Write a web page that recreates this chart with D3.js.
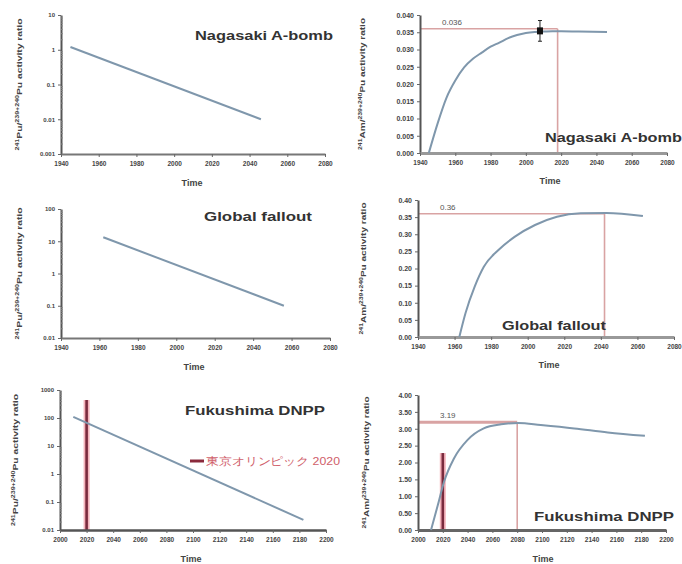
<!DOCTYPE html>
<html><head><meta charset="utf-8">
<script src="https://cdn.jsdelivr.net/npm/d3@7"></script>
<style>
body{margin:0;background:#fff}
svg{display:block}
text{font-family:"Liberation Sans",Arial,sans-serif}
</style>
</head><body>
<svg id="c" width="682" height="564"></svg>
<script>
// ---------- DATA ----------
const yearTicks = [1940, 1960, 1980, 2000, 2020, 2040, 2060, 2080];
const fukushimaYearTicks = [2000, 2020, 2040, 2060, 2080, 2100, 2120, 2140, 2160, 2180, 2200];

const nagasakiLogTicks = [0.001, 0.01, 0.1, 1, 10];
const globalLogTicks = [0.01, 0.1, 1, 10, 100];
const fukushimaLogTicks = [0.01, 0.1, 1, 10, 100, 1000];

const nagasakiAmTicks = [0, 0.005, 0.010, 0.015, 0.020, 0.025, 0.030, 0.035, 0.040];
const globalAmTicks = [0, 0.05, 0.10, 0.15, 0.20, 0.25, 0.30, 0.35, 0.40];
const fukushimaAmTicks = [0, 0.5, 1.0, 1.5, 2.0, 2.5, 3.0, 3.5, 4.0];

// Pu-241 decay (left panels)
const nagasakiPuYears = [1945, 2046];
const nagasakiPuValues = [1.2, 0.01];
const globalPuYears = [1962, 2056];
const globalPuValues = [13.3, 0.1];
const fukushimaPuYears = [2010, 2183];
const fukushimaPuValues = [110, 0.023];

// Am-241 ingrowth (right panels)
const nagasakiAmYears = [1945, 1950, 1955, 1960, 1965, 1970, 1975, 1980, 1985, 1990, 1995, 2000, 2005, 2010, 2015, 2020, 2030, 2046];
const nagasakiAmValues = [0, 0.0086, 0.0160, 0.0210, 0.0248, 0.0273, 0.0291, 0.0308, 0.0320, 0.0333, 0.0342, 0.0348, 0.0351, 0.0352, 0.0353, 0.0353, 0.0352, 0.0351];
const globalAmYears = [1962.6, 1966, 1971, 1976, 1984, 1993, 2004, 2016, 2029, 2043, 2063];
const globalAmValues = [0, 0.070, 0.147, 0.205, 0.254, 0.293, 0.327, 0.351, 0.361, 0.362, 0.353];
const fukushimaAmYears = [2010.5, 2016, 2021, 2029, 2040, 2053, 2067, 2081, 2099, 2126, 2153, 2183];
const fukushimaAmValues = [0, 0.74, 1.43, 2.12, 2.67, 3.01, 3.13, 3.17, 3.11, 3.01, 2.89, 2.79];

// Maxima of Am-241
const peakYears = [2018, 2042, 2080];
const peakValues = [0.036, 0.36, 3.19];
const peakLabels = ["0.036", "0.36", "3.19"];

// Nagasaki measured point
const measuredYear = 2008;
const measuredValue = 0.0354;
const measuredError = 0.003;

// Tokyo Olympics
const olympicYear = 2020;
const olympicTopLeft = 440;
const olympicTopRight = 2.28;
const olympicLabel = "東京オリンピック  2020";

const titles = ["Nagasaki A-bomb", "Global fallout", "Fukushima DNPP"];

// ---------- DRAW ----------
const svg = d3.select("#c");
const lineColor = "#7f97ac";
const refColor = "#d9a3a3";

function yTitle(g, cx, cy, nucl) {
  const t = g.append("text")
    .attr("transform", `translate(${cx},${cy}) rotate(-90)`)
    .attr("text-anchor", "middle")
    .attr("font-size", 8).attr("font-weight", "bold").attr("fill", "#444")
    .attr("textLength", 132).attr("lengthAdjust", "spacingAndGlyphs");
  const sup = (s) => t.append("tspan").attr("font-size", 5.5).attr("dy", -3).text(s);
  const norm = (s) => t.append("tspan").attr("dy", 3).text(s);
  sup(nucl[0]); norm(nucl[1]); sup("239+240"); norm("Pu activity ratio");
}

function panel(c) {
  const g = svg.append("g");
  const x = d3.scaleLinear().domain(c.xDomain).range([c.x0, c.x1]);
  const y = (c.log ? d3.scaleLog() : d3.scaleLinear()).domain(c.yDomain).range([c.yBot, c.yTop]);

  // reference lines
  if (c.peak) {
    g.append("line").attr("x1", c.x0).attr("x2", x(c.peak.year))
      .attr("y1", y(c.peak.value)).attr("y2", y(c.peak.value))
      .attr("stroke", refColor).attr("stroke-width", c.peakWidth);
    g.append("line").attr("x1", x(c.peak.year)).attr("x2", x(c.peak.year))
      .attr("y1", y(c.peak.value)).attr("y2", c.yBot)
      .attr("stroke", refColor).attr("stroke-width", 1.6);
    g.append("text").attr("x", c.x0 + 22).attr("y", y(c.peak.value) - 4)
      .attr("font-size", 8).attr("fill", "#555").text(c.peak.label);
  }
  if (c.olympic) {
    const ox = x(c.olympic.year);
    g.append("line").attr("x1", ox).attr("x2", ox).attr("y1", y(c.olympic.top)).attr("y2", c.yBot)
      .attr("stroke", "#f4b3bb").attr("stroke-width", 6);
    g.append("line").attr("x1", ox).attr("x2", ox).attr("y1", y(c.olympic.top)).attr("y2", c.yBot)
      .attr("stroke", "#7a2b3e").attr("stroke-width", 2.6);
  }

  // axes
  const ya = g.append("g").attr("transform", `translate(${c.x0},0)`)
    .call(d3.axisLeft(y).tickValues(c.yTicks).tickFormat(c.yFormat).tickSize(3).tickSizeOuter(0).tickPadding(3));
  ya.select(".domain").attr("stroke", "#555").attr("stroke-width", 2);
  ya.selectAll(".tick line").attr("stroke", "#666");
  ya.selectAll(".tick text").attr("font-size", c.yFont).attr("fill", "#444").attr("font-weight", "bold")
    .attr("font-family", "Liberation Sans, Arial, sans-serif");
  if (c.log) {
    const minor = y.ticks().filter(v => !c.yTicks.some(t => Math.abs(t - v) / t < 1e-6));
    const ma = g.append("g").attr("transform", `translate(${c.x0},0)`)
      .call(d3.axisRight(y).tickValues(minor).tickFormat("").tickSize(2).tickSizeOuter(0));
    ma.select(".domain").remove();
    ma.selectAll(".tick line").attr("stroke", "#888");
  }
  const xa = g.append("g").attr("transform", `translate(0,${c.yBot})`)
    .call(d3.axisBottom(x).tickValues(c.xTicks).tickFormat(d3.format("d")).tickSize(3).tickSizeOuter(0).tickPadding(4));
  xa.select(".domain").attr("stroke", c.xAxisColor).attr("stroke-width", c.xAxisWidth);
  xa.selectAll(".tick line").attr("stroke", "#666");
  xa.selectAll(".tick text").attr("font-size", 6.5).attr("fill", "#444").attr("font-weight", "bold")
    .attr("font-family", "Liberation Sans, Arial, sans-serif");

  // data line
  const line = d3.line().x(d => x(d[0])).y(d => y(d[1])).curve(d3.curveMonotoneX);
  g.append("path").datum(d3.zip(c.years, c.values)).attr("d", line)
    .attr("fill", "none").attr("stroke", lineColor).attr("stroke-width", 2);

  if (c.measured) {
    const mx = x(c.measured.year);
    g.append("line").attr("x1", mx).attr("x2", mx)
      .attr("y1", y(c.measured.value + c.measured.err)).attr("y2", y(c.measured.value - c.measured.err))
      .attr("stroke", "#222").attr("stroke-width", 1);
    [c.measured.value + c.measured.err, c.measured.value - c.measured.err].forEach(v =>
      g.append("line").attr("x1", mx - 2).attr("x2", mx + 2).attr("y1", y(v)).attr("y2", y(v)).attr("stroke", "#222"));
    g.append("rect").attr("x", mx - 3).attr("y", y(c.measured.value) - 3.5).attr("width", 6).attr("height", 7).attr("fill", "#111");
  }

  // titles
  g.append("text").attr("x", c.titleX).attr("y", c.titleY).attr("text-anchor", "end")
    .attr("font-size", 13).attr("font-weight", "bold").attr("fill", "#333")
    .attr("textLength", c.titleLen).attr("lengthAdjust", "spacingAndGlyphs").text(c.title);
  g.append("text").attr("x", c.timeX).attr("y", c.timeY).attr("text-anchor", "middle")
    .attr("font-size", 9).attr("font-weight", "bold").attr("fill", "#444").text("Time");
  yTitle(g, c.yTitleX, (c.yTop + c.yBot) / 2, c.nucl);
  return {x, y};
}

const fmtLog = d => String(d);

panel({x0: 61, x1: 325, yTop: 15, yBot: 154, xDomain: [1940, 2080], yDomain: [0.001, 10], log: true,
  xTicks: yearTicks, yTicks: nagasakiLogTicks, yFormat: fmtLog, yFont: 6,
  xAxisColor: "#777", xAxisWidth: 2, years: nagasakiPuYears, values: nagasakiPuValues,
  title: titles[0], titleX: 333, titleY: 40, titleLen: 138, timeX: 192, timeY: 186, yTitleX: 22, nucl: ["241", "Pu/"]});

panel({x0: 420, x1: 667, yTop: 15, yBot: 153, xDomain: [1940, 2080], yDomain: [0, 0.04], log: false,
  xTicks: yearTicks, yTicks: nagasakiAmTicks, yFormat: d3.format(".3f"), yFont: 7,
  xAxisColor: "#999", xAxisWidth: 3, years: nagasakiAmYears, values: nagasakiAmValues,
  peak: {year: peakYears[0], value: peakValues[0], label: peakLabels[0]}, peakWidth: 1.6,
  measured: {year: measuredYear, value: measuredValue, err: measuredError},
  title: titles[0], titleX: 682, titleY: 142, titleLen: 137, timeX: 550, timeY: 184, yTitleX: 365, nucl: ["241", "Am/"]});

panel({x0: 61, x1: 330, yTop: 209, yBot: 338, xDomain: [1940, 2080], yDomain: [0.01, 100], log: true,
  xTicks: yearTicks, yTicks: globalLogTicks, yFormat: fmtLog, yFont: 6,
  xAxisColor: "#777", xAxisWidth: 2, years: globalPuYears, values: globalPuValues,
  title: titles[1], titleX: 312, titleY: 221, titleLen: 108, timeX: 194, timeY: 370, yTitleX: 22, nucl: ["241", "Pu/"]});

panel({x0: 418, x1: 674, yTop: 200, yBot: 337, xDomain: [1940, 2080], yDomain: [0, 0.4], log: false,
  xTicks: yearTicks, yTicks: globalAmTicks, yFormat: d3.format(".2f"), yFont: 7,
  xAxisColor: "#999", xAxisWidth: 3, years: globalAmYears, values: globalAmValues,
  peak: {year: peakYears[1], value: peakValues[1], label: peakLabels[1]}, peakWidth: 1.6,
  title: titles[1], titleX: 606, titleY: 330, titleLen: 104, timeX: 549, timeY: 368, yTitleX: 366, nucl: ["241", "Am/"]});

panel({x0: 60, x1: 326, yTop: 390, yBot: 530, xDomain: [2000, 2200], yDomain: [0.01, 1000], log: true,
  xTicks: fukushimaYearTicks, yTicks: fukushimaLogTicks, yFormat: fmtLog, yFont: 6,
  xAxisColor: "#555", xAxisWidth: 2.5, years: fukushimaPuYears, values: fukushimaPuValues,
  olympic: {year: olympicYear, top: olympicTopLeft},
  title: titles[2], titleX: 325, titleY: 415, titleLen: 140, timeX: 191, timeY: 562, yTitleX: 18, nucl: ["241", "Pu/"]});

panel({x0: 418, x1: 666, yTop: 395, yBot: 530, xDomain: [2000, 2200], yDomain: [0, 4], log: false,
  xTicks: fukushimaYearTicks, yTicks: fukushimaAmTicks, yFormat: d3.format(".2f"), yFont: 7,
  xAxisColor: "#666", xAxisWidth: 3, years: fukushimaAmYears, values: fukushimaAmValues,
  peak: {year: peakYears[2], value: peakValues[2], label: peakLabels[2]}, peakWidth: 3,
  olympic: {year: olympicYear, top: olympicTopRight},
  title: titles[2], titleX: 674, titleY: 521, titleLen: 140, timeX: 543, timeY: 562, yTitleX: 369, nucl: ["241", "Am/"]});

// Legend for Tokyo Olympics
svg.append("line").attr("x1", 190).attr("x2", 204).attr("y1", 461).attr("y2", 461)
  .attr("stroke", "#8a2a3c").attr("stroke-width", 3);
svg.append("text").attr("x", 206).attr("y", 465).attr("font-size", 10.5)
  .attr("font-family", "Noto Sans CJK JP, sans-serif").attr("fill", "#d0606a")
  .attr("textLength", 134).attr("lengthAdjust", "spacingAndGlyphs").text(olympicLabel);
</script>
</body></html>
